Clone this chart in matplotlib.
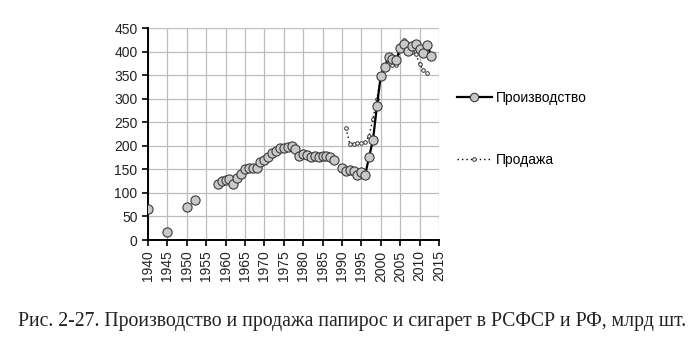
import numpy as np
import matplotlib
matplotlib.use("Agg")
import matplotlib.pyplot as plt
from matplotlib.lines import Line2D

# Production (Производство), billion pcs; NaN = no data
prod_years = [1940, 1941, 1942, 1943, 1944, 1945, 1946, 1947, 1948, 1949,
              1950, 1951, 1952, 1953, 1954, 1955, 1956, 1957,
              1958, 1959, 1960, 1961, 1962, 1963, 1964, 1965, 1966, 1967,
              1968, 1969, 1970, 1971, 1972, 1973, 1974, 1975, 1976, 1977,
              1978, 1979, 1980, 1981, 1982, 1983, 1984, 1985, 1986, 1987,
              1988, 1989, 1990, 1991, 1992, 1993, 1994, 1995, 1996, 1997,
              1998, 1999, 2000, 2001, 2002, 2003, 2004, 2005, 2006, 2007,
              2008, 2009, 2010, 2011, 2012, 2013]
nan = np.nan
prod_values = [65, nan, nan, nan, nan, 16, nan, nan, nan, nan,
               70, nan, 84, nan, nan, nan, nan, nan,
               120, 126, 127, 129, 120, 131, 141, 150, 152, 152,
               154, 166, 171, 177, 185, 190, 195, 195, 198, 199,
               194, 179, 183, 181, 177, 179, 177, 179, 179, 177,
               170, nan, 152, 146, 149, 146, 138, 144, 139, 177,
               213, 284, 349, 367, 390, 384, 383, 408, 416, 402,
               412, 416, 405, 397, 414, 392]

# Sales (Продажа)
sales_years = [1991, 1992, 1993, 1994, 1995, 1996, 1997, 1998, 1999, 2000,
               2001, 2002, 2003, 2004, 2005, 2006, 2007, 2008, 2009, 2010,
               2011, 2012]
sales_values = [238, 205, 205, 206, 207, 208, 222, 258, 300, 345,
                364, 383, 372, 373, 403, 425, 405, 400, 396, 374,
                361, 356]

x_ticks = list(range(1940, 2016, 5))
y_ticks = list(range(0, 451, 50))

caption = "Рис. 2-27. Производство и продажа папирос и сигарет в РСФСР и РФ, млрд шт."
label_prod = "Производство"
label_sales = "Продажа"

plt.rcParams['font.family'] = ['Liberation Sans', 'DejaVu Sans']

fig = plt.figure(figsize=(7.0, 3.58), dpi=100)
ax = fig.add_axes([0.2114, 0.3296, 0.4157, 0.5914])

ax.plot(sales_years, sales_values, linestyle=(0, (1, 2.2)), color='black',
        linewidth=1.0, marker='o', markersize=2.6, markerfacecolor='white',
        markeredgecolor='#333333', markeredgewidth=0.7, zorder=3)
ax.plot(prod_years, prod_values, linestyle='-', color='black', linewidth=1.6,
        marker='o', markersize=6.6, markerfacecolor='#c8c8c8',
        markeredgecolor='#3a3a3a', markeredgewidth=0.8, zorder=4)

ax.set_xlim(1940, 2015)
ax.set_ylim(0, 450)
ax.set_xticks(x_ticks)
ax.set_yticks(y_ticks)
ax.set_xticklabels([str(t) for t in x_ticks], rotation=90)
ax.tick_params(axis='both', labelsize=10, colors='black', direction='out',
               length=4, width=1.2)
ax.grid(True, color='#bdbdbd', linewidth=0.9)
ax.set_axisbelow(True)
for s in ['top', 'right']:
    ax.spines[s].set_visible(False)
for s in ['left', 'bottom']:
    ax.spines[s].set_linewidth(1.4)
    ax.spines[s].set_color('black')
for lab in ax.get_xticklabels() + ax.get_yticklabels():
    lab.set_color('#222222')

h1 = Line2D([], [], color='black', linewidth=1.6, marker='o', markersize=6,
            markerfacecolor='#c8c8c8', markeredgecolor='#3a3a3a',
            markeredgewidth=0.8)
h2 = Line2D([], [], color='black', linewidth=1.0, linestyle=(0, (1, 2.2)),
            marker='o', markersize=2.6, markerfacecolor='white',
            markeredgecolor='#333333', markeredgewidth=0.7)
fig.legend([h1, h2], [label_prod, label_sales], loc='upper left',
           bbox_to_anchor=(0.645, 0.762), frameon=False, fontsize=10,
           labelspacing=3.45, handlelength=2.5, handletextpad=0.3,
           borderaxespad=0)

fig.text(0.503, 0.103, caption, ha='center', va='center', fontsize=14.2,
         family=['Liberation Serif', 'DejaVu Serif'], color='#222222')

fig.savefig("out.png", dpi=100)
